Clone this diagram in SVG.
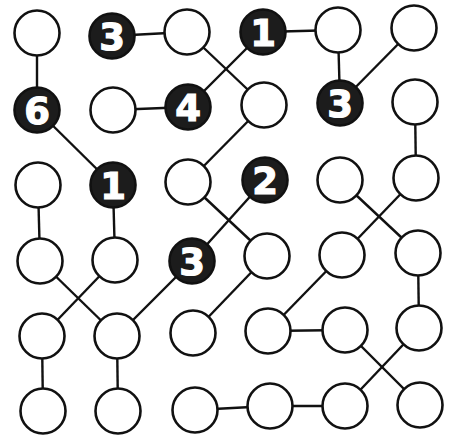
<svg xmlns="http://www.w3.org/2000/svg" width="456" height="437" viewBox="0 0 456 437">
<style>
.e{stroke:#111;stroke-width:2.4;fill:none}
.w{fill:#fff;stroke:#111;stroke-width:2.6}
.b{fill:#1c1c1c;stroke:#111;stroke-width:2.6}
.t{fill:#fff;stroke:#fff;stroke-width:1.2;font-family:"DejaVu Sans",sans-serif;font-weight:bold;font-size:37px;text-anchor:middle;dominant-baseline:central}
</style>
<rect width="456" height="437" fill="#fff"/>
<g id="connectors">
<line class="e" x1="37" y1="33" x2="37" y2="110"/>
<line class="e" x1="37" y1="110" x2="113" y2="185"/>
<line class="e" x1="112" y1="36" x2="187" y2="32"/>
<line class="e" x1="113" y1="110" x2="188" y2="107"/>
<line class="e" x1="187" y1="32" x2="264" y2="105"/>
<line class="e" x1="188" y1="107" x2="263" y2="32"/>
<line class="e" x1="263" y1="32" x2="338" y2="30"/>
<line class="e" x1="338" y1="30" x2="340" y2="103"/>
<line class="e" x1="340" y1="103" x2="414" y2="28"/>
<line class="e" x1="415" y1="102" x2="416" y2="178"/>
<line class="e" x1="264" y1="105" x2="188" y2="182"/>
<line class="e" x1="188" y1="182" x2="267" y2="256"/>
<line class="e" x1="265" y1="180" x2="192" y2="261"/>
<line class="e" x1="38" y1="185" x2="40" y2="261"/>
<line class="e" x1="113" y1="185" x2="115" y2="260"/>
<line class="e" x1="40" y1="261" x2="117" y2="336"/>
<line class="e" x1="115" y1="260" x2="42" y2="336"/>
<line class="e" x1="192" y1="261" x2="117" y2="336"/>
<line class="e" x1="42" y1="336" x2="43" y2="411"/>
<line class="e" x1="117" y1="336" x2="118" y2="411"/>
<line class="e" x1="340" y1="180" x2="418" y2="253"/>
<line class="e" x1="416" y1="178" x2="342" y2="255"/>
<line class="e" x1="267" y1="256" x2="193" y2="333"/>
<line class="e" x1="342" y1="255" x2="268" y2="331"/>
<line class="e" x1="268" y1="331" x2="345" y2="330"/>
<line class="e" x1="418" y1="253" x2="419" y2="328"/>
<line class="e" x1="345" y1="330" x2="420" y2="405"/>
<line class="e" x1="419" y1="328" x2="345" y2="406"/>
<line class="e" x1="195" y1="410" x2="270" y2="406"/>
<line class="e" x1="270" y1="406" x2="345" y2="406"/>
</g>
<g id="r0c0"><circle class="w" cx="37" cy="33" r="22.5"/></g>
<g id="r0c1"><circle class="b" cx="112" cy="36" r="22.5"/><text class="t" x="112" y="37">3</text></g>
<g id="r0c2"><circle class="w" cx="187" cy="32" r="22.5"/></g>
<g id="r0c3"><circle class="b" cx="263" cy="32" r="22.5"/><text class="t" x="263" y="33">1</text></g>
<g id="r0c4"><circle class="w" cx="338" cy="30" r="22.5"/></g>
<g id="r0c5"><circle class="w" cx="414" cy="28" r="22.5"/></g>
<g id="r1c0"><circle class="b" cx="37" cy="110" r="22.5"/><text class="t" x="37" y="111">6</text></g>
<g id="r1c1"><circle class="w" cx="113" cy="110" r="22.5"/></g>
<g id="r1c2"><circle class="b" cx="188" cy="107" r="22.5"/><text class="t" x="188" y="108">4</text></g>
<g id="r1c3"><circle class="w" cx="264" cy="105" r="22.5"/></g>
<g id="r1c4"><circle class="b" cx="340" cy="103" r="22.5"/><text class="t" x="340" y="104">3</text></g>
<g id="r1c5"><circle class="w" cx="415" cy="102" r="22.5"/></g>
<g id="r2c0"><circle class="w" cx="38" cy="185" r="22.5"/></g>
<g id="r2c1"><circle class="b" cx="113" cy="185" r="22.5"/><text class="t" x="113" y="186">1</text></g>
<g id="r2c2"><circle class="w" cx="188" cy="182" r="22.5"/></g>
<g id="r2c3"><circle class="b" cx="265" cy="180" r="22.5"/><text class="t" x="265" y="181">2</text></g>
<g id="r2c4"><circle class="w" cx="340" cy="180" r="22.5"/></g>
<g id="r2c5"><circle class="w" cx="416" cy="178" r="22.5"/></g>
<g id="r3c0"><circle class="w" cx="40" cy="261" r="22.5"/></g>
<g id="r3c1"><circle class="w" cx="115" cy="260" r="22.5"/></g>
<g id="r3c2"><circle class="b" cx="192" cy="261" r="22.5"/><text class="t" x="192" y="262">3</text></g>
<g id="r3c3"><circle class="w" cx="267" cy="256" r="22.5"/></g>
<g id="r3c4"><circle class="w" cx="342" cy="255" r="22.5"/></g>
<g id="r3c5"><circle class="w" cx="418" cy="253" r="22.5"/></g>
<g id="r4c0"><circle class="w" cx="42" cy="336" r="22.5"/></g>
<g id="r4c1"><circle class="w" cx="117" cy="336" r="22.5"/></g>
<g id="r4c2"><circle class="w" cx="193" cy="333" r="22.5"/></g>
<g id="r4c3"><circle class="w" cx="268" cy="331" r="22.5"/></g>
<g id="r4c4"><circle class="w" cx="345" cy="330" r="22.5"/></g>
<g id="r4c5"><circle class="w" cx="419" cy="328" r="22.5"/></g>
<g id="r5c0"><circle class="w" cx="43" cy="411" r="22.5"/></g>
<g id="r5c1"><circle class="w" cx="118" cy="411" r="22.5"/></g>
<g id="r5c2"><circle class="w" cx="195" cy="410" r="22.5"/></g>
<g id="r5c3"><circle class="w" cx="270" cy="406" r="22.5"/></g>
<g id="r5c4"><circle class="w" cx="345" cy="406" r="22.5"/></g>
<g id="r5c5"><circle class="w" cx="420" cy="405" r="22.5"/></g>
</svg>
